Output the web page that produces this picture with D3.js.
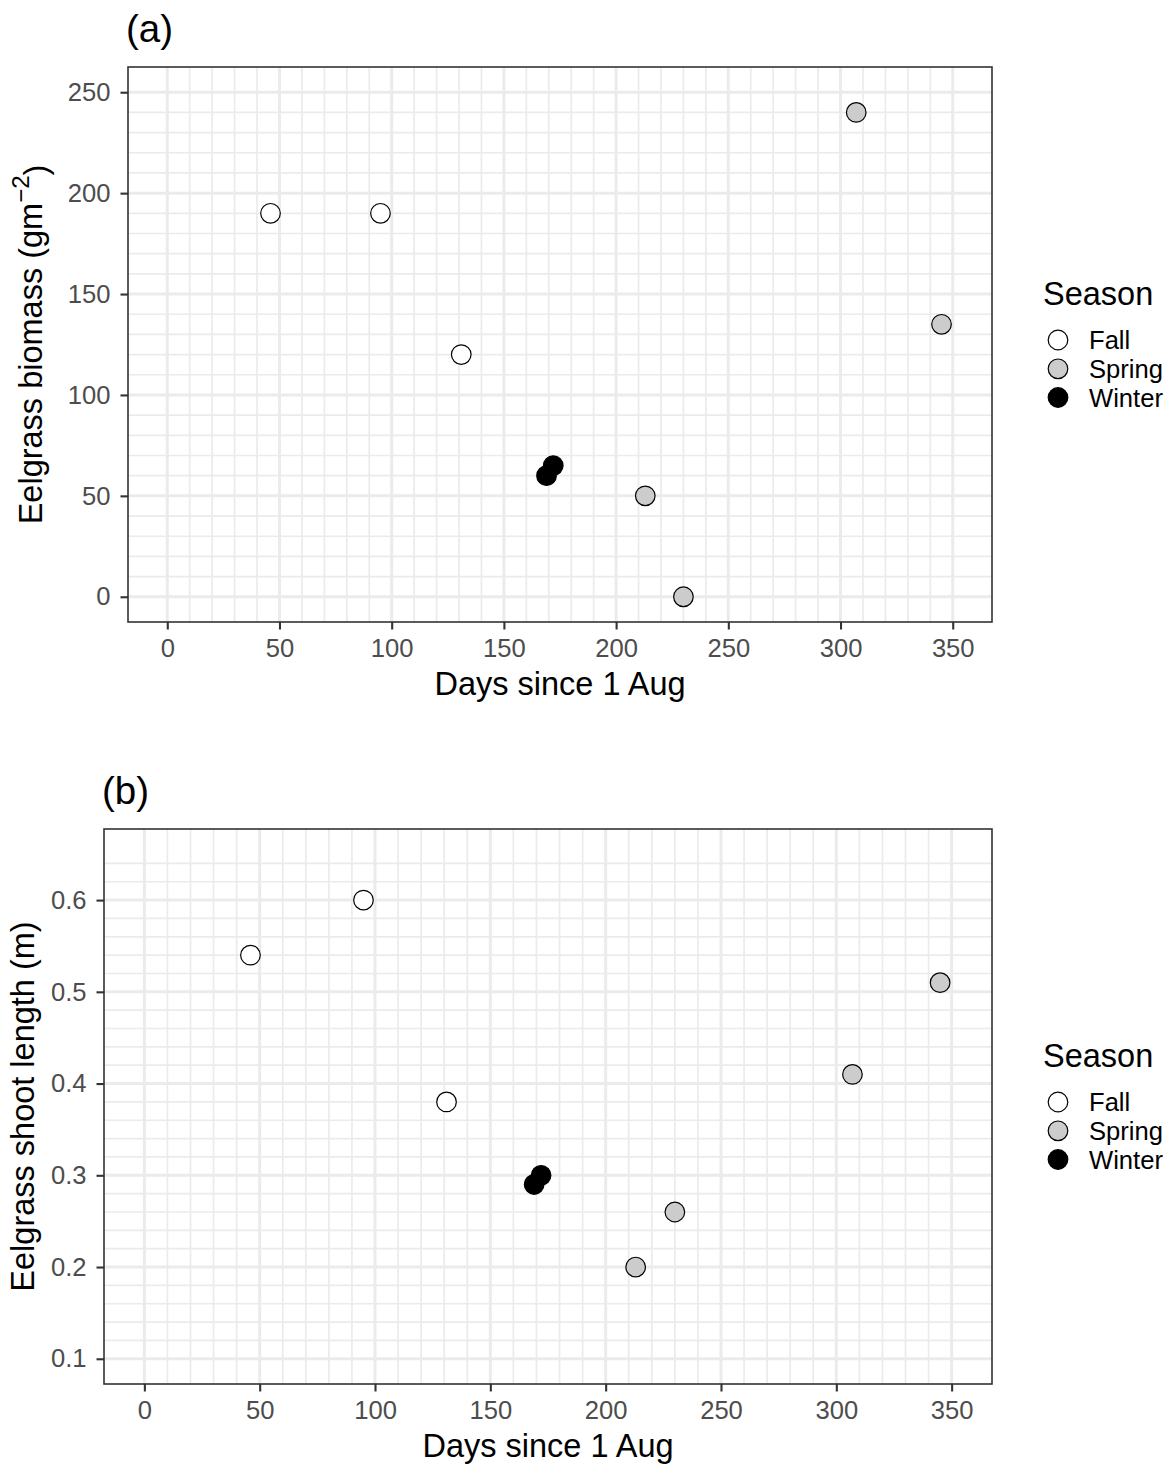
<!DOCTYPE html>
<html>
<head>
<meta charset="utf-8">
<script src="https://cdn.jsdelivr.net/npm/d3@7"></script>
<style>
  html, body { margin: 0; padding: 0; background: #fff; }
  svg text { font-family: "Liberation Sans", Arial, Helvetica, sans-serif; }
</style>
</head>
<body>
<svg id="chart" width="1174" height="1467"></svg>
<script>
// ---------- data ----------
const days      = [46, 95, 131, 169, 172, 213, 230, 307, 345];
const seasons   = ["Fall", "Fall", "Fall", "Winter", "Winter", "Spring", "Spring", "Spring", "Spring"];
const biomass   = [190, 190, 120, 60, 65, 50, 0, 240, 135];
const shootLen  = [0.54, 0.60, 0.38, 0.29, 0.30, 0.20, 0.26, 0.41, 0.51];

const seasonLevels = ["Fall", "Spring", "Winter"];
const seasonFills  = ["#FFFFFF", "#CCCCCC", "#000000"];

const xTicks      = [0, 50, 100, 150, 200, 250, 300, 350];
const xMinor      = d3.range(0, 351, 10);
const biomassTicks = [0, 50, 100, 150, 200, 250];
const biomassMinor = d3.range(0, 251, 10);
const lenTicks     = [0.1, 0.2, 0.3, 0.4, 0.5, 0.6];
const lenMinor     = d3.range(0, 28).map(i => +(0.1 + i * 0.02).toFixed(2));

// ---------- drawing ----------
const svg = d3.select("#chart");
const fill = d3.scaleOrdinal().domain(seasonLevels).range(seasonFills);

function panel(cfg) {
  const { left, right, top, bottom, xDomain, yDomain, yVals, yTicks, yMinor, yFmt,
          tag, tagX, titleX, yTitle, yTitleSup, legendCY } = cfg;
  const x = d3.scaleLinear().domain(xDomain).range([left, right]);
  const y = d3.scaleLinear().domain(yDomain).range([bottom, top]);
  const g = svg.append("g");

  g.append("rect").attr("x", left).attr("y", top)
    .attr("width", right - left).attr("height", bottom - top).attr("fill", "#fff");

  // minor grid
  g.selectAll(".vminor").data(xMinor).enter().append("line")
    .attr("x1", d => x(d)).attr("x2", d => x(d)).attr("y1", top).attr("y2", bottom)
    .attr("stroke", "#EBEBEB").attr("stroke-width", 1.7);
  g.selectAll(".hminor").data(yMinor).enter().append("line")
    .attr("y1", d => y(d)).attr("y2", d => y(d)).attr("x1", left).attr("x2", right)
    .attr("stroke", "#EBEBEB").attr("stroke-width", 1.7);
  // major grid
  g.selectAll(".vmajor").data(xTicks).enter().append("line")
    .attr("x1", d => x(d)).attr("x2", d => x(d)).attr("y1", top).attr("y2", bottom)
    .attr("stroke", "#EBEBEB").attr("stroke-width", 3);
  g.selectAll(".hmajor").data(yTicks).enter().append("line")
    .attr("y1", d => y(d)).attr("y2", d => y(d)).attr("x1", left).attr("x2", right)
    .attr("stroke", "#EBEBEB").attr("stroke-width", 3);

  // points
  g.selectAll(".pt").data(days.map((d, i) => ({ d, v: yVals[i], s: seasons[i] })))
    .enter().append("circle")
    .attr("cx", p => x(p.d)).attr("cy", p => y(p.v)).attr("r", 9.8)
    .attr("fill", p => fill(p.s)).attr("stroke", "#000").attr("stroke-width", 1.2);

  // border
  g.append("rect").attr("x", left).attr("y", top)
    .attr("width", right - left).attr("height", bottom - top)
    .attr("fill", "none").attr("stroke", "#333333").attr("stroke-width", 1.6);

  // axes
  const xa = g.append("g").attr("transform", `translate(0,${bottom})`)
    .call(d3.axisBottom(x).tickValues(xTicks).tickSizeInner(7.5).tickSizeOuter(0).tickPadding(9.8).tickFormat(d3.format("d")));
  const ya = g.append("g").attr("transform", `translate(${left},0)`)
    .call(d3.axisLeft(y).tickValues(yTicks).tickSizeInner(7.5).tickSizeOuter(0).tickPadding(10).tickFormat(yFmt));
  [xa, ya].forEach(a => {
    a.select(".domain").remove();
    a.selectAll(".tick line").attr("stroke", "#333333").attr("stroke-width", 2.1);
    a.selectAll(".tick text").attr("fill", "#4D4D4D").style("font-size", "25.6px")
      .style("font-family", "'Liberation Sans', Arial, sans-serif");
  });

  // x title
  g.append("text").attr("x", (left + right) / 2).attr("y", bottom + 73)
    .attr("text-anchor", "middle").style("font-size", "32.5px").attr("fill", "#000")
    .text("Days since 1 Aug");

  // y title
  const yt = g.append("text")
    .attr("transform", `translate(${titleX},${(top + bottom) / 2}) rotate(-90)`)
    .attr("text-anchor", "middle").style("font-size", "32.5px").attr("fill", "#000");
  if (yTitleSup) {
    yt.append("tspan").text(yTitle);
    yt.append("tspan").attr("dy", "-0.55em").style("font-size", "24px").text(yTitleSup);
    yt.append("tspan").attr("dy", "0.55em").text(")");
  } else {
    yt.text(yTitle);
  }

  // tag
  g.append("text").attr("x", tagX).attr("y", top - 25)
    .style("font-size", "38.5px").attr("fill", "#000").text(tag);

  // legend
  const cy = legendCY;
  const lg = g.append("g");
  lg.append("text").attr("x", 1043).attr("y", cy - 40)
    .style("font-size", "32.5px").attr("fill", "#000").text("Season");
  const offs = [-4.5, 24.3, 53];
  seasonLevels.forEach((s, i) => {
    lg.append("circle").attr("cx", 1058).attr("cy", cy + offs[i]).attr("r", 9.8)
      .attr("fill", fill(s)).attr("stroke", "#000").attr("stroke-width", 1.2);
    lg.append("text").attr("x", 1089).attr("y", cy + offs[i] + 9.3)
      .style("font-size", "25.6px").attr("fill", "#000").text(s);
  });
}

panel({
  left: 128, right: 992, top: 67, bottom: 622,
  xDomain: [-17.5, 367.5], yDomain: [-12.5, 262.5],
  yVals: biomass, yTicks: biomassTicks, yMinor: biomassMinor, yFmt: d3.format("d"),
  tag: "(a)", tagX: 126, titleX: 42,
  yTitle: "Eelgrass biomass (gm", yTitleSup: "\u22122",
  legendCY: 344.5
});

panel({
  left: 104, right: 992, top: 829, bottom: 1384,
  xDomain: [-17.5, 367.5], yDomain: [0.0725, 0.6775],
  yVals: shootLen, yTicks: lenTicks, yMinor: lenMinor, yFmt: d3.format(".1f"),
  tag: "(b)", tagX: 102, titleX: 34,
  yTitle: "Eelgrass shoot length (m)", yTitleSup: null,
  legendCY: 1106.5
});
</script>
</body>
</html>
